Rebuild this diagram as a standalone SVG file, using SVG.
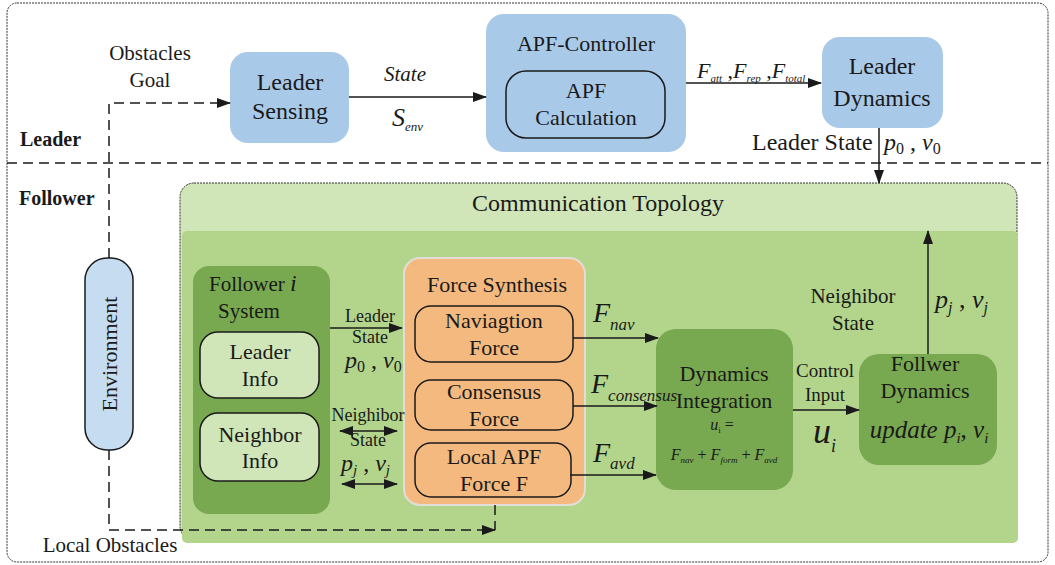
<svg xmlns="http://www.w3.org/2000/svg" width="1055" height="565" viewBox="0 0 1055 565" font-family="Liberation Serif">
<defs>
<marker id="ah" markerUnits="userSpaceOnUse" markerWidth="14" markerHeight="10" refX="13" refY="5" orient="auto">
<path d="M0,0 L14,5 L0,10 Z" fill="#1a1a1a"/>
</marker>
<marker id="ahs" markerUnits="userSpaceOnUse" markerWidth="14" markerHeight="10" refX="1" refY="5" orient="auto">
<path d="M14,0 L0,5 L14,10 Z" fill="#1a1a1a"/>
</marker>
<style>
text{font-family:'Liberation Serif','Times New Roman',serif;fill:#1a1a1a}
.t22{font-size:22px;text-anchor:middle}
.t24{font-size:24px;text-anchor:middle}
.t19{font-size:19px;text-anchor:middle}
.bold{font-size:20px;font-weight:bold}
.it{font-style:italic}
.blue{fill:#a9c9e8}
.dk{fill:#78a84f}
.inner{stroke:#1a1a1a;stroke-width:1.5}
.ln{stroke:#1a1a1a;stroke-width:1.5;fill:none}
.dash{stroke:#1a1a1a;stroke-width:1.5;fill:none;stroke-dasharray:10 6}
</style>
</defs>
<rect x="7" y="3" width="1041" height="559" rx="10" fill="#ffffff" stroke="#333" stroke-width="1" stroke-dasharray="2 1"/>
<line x1="7" y1="163" x2="1048" y2="163" class="dash"/>
<text class="bold" x="20" y="146">Leader</text>
<text class="bold" x="19" y="205">Follower</text>
<text x="150" y="60" font-size="21" text-anchor="middle">Obstacles</text>
<text x="150" y="87" font-size="21" text-anchor="middle">Goal</text>
<text x="110" y="552" font-size="21" text-anchor="middle">Local Obstacles</text>

<g id="comm-topology">
<rect x="180" y="183" width="837" height="357" rx="14" fill="#d0e5b8" stroke="#333" stroke-width="1" stroke-dasharray="2 1"/>
<rect x="182" y="231" width="836" height="312" rx="5" fill="#b2d58b"/>
<text class="t22" x="598" y="211" font-size="24" style="font-size:24px">Communication Topology</text>
</g>

<g id="leader-sensing">
<rect x="230" y="52" width="119" height="91" rx="18" class="blue"/>
<text class="t24" x="290" y="90">Leader</text>
<text class="t24" x="290" y="119">Sensing</text>
</g>

<g id="apf-controller">
<rect x="486" y="14" width="200" height="138" rx="18" class="blue"/>
<text class="t22" x="586" y="51">APF-Controller</text>
</g>
<g id="apf-calculation">
<rect x="506" y="71" width="159" height="67" rx="20" fill="none" class="inner"/>
<text class="t22" x="586" y="98">APF</text>
<text class="t22" x="586" y="125">Calculation</text>
</g>

<g id="leader-dynamics">
<rect x="822" y="37" width="121" height="91" rx="18" class="blue"/>
<text class="t24" x="882" y="74">Leader</text>
<text class="t24" x="882" y="106">Dynamics</text>
</g>

<g id="environment">
<rect x="85" y="258" width="48" height="192" rx="22" fill="#c6dcf1" class="inner"/>
<text class="t22" x="0" y="0" transform="translate(117,354) rotate(-90)">Environment</text>
</g>

<g id="follower-system">
<rect x="193" y="266" width="137" height="248" rx="16" class="dk"/>
<text x="209" y="291" font-size="21">Follower <tspan class="it" font-size="24">i</tspan></text>
<text x="249" y="318" font-size="21" text-anchor="middle">System</text>
</g>
<g id="leader-info">
<rect x="200" y="332" width="119" height="66" rx="18" fill="#d0e5b8" class="inner"/>
<text class="t22" x="260" y="359">Leader</text>
<text class="t22" x="260" y="386">Info</text>
</g>
<g id="neighbor-info">
<rect x="200" y="413" width="119" height="68" rx="18" fill="#d0e5b8" class="inner"/>
<text class="t22" x="260" y="442">Neighbor</text>
<text class="t22" x="260" y="468">Info</text>
</g>

<g id="force-synthesis">
<rect x="404" y="258" width="181" height="247" rx="16" fill="#f4b97f" stroke="#e2ddd6" stroke-width="2"/>
<text class="t22" x="497" y="292">Force Synthesis</text>
</g>
<g id="navigation-force">
<rect x="415" y="306" width="158" height="56" rx="16" fill="#f4b97f" class="inner"/>
<text class="t22" x="494" y="328">Naviagtion</text>
<text class="t22" x="494" y="355">Force</text>
</g>
<g id="consensus-force">
<rect x="415" y="380" width="158" height="50" rx="16" fill="#f4b97f" class="inner"/>
<text class="t22" x="494" y="399">Consensus</text>
<text class="t22" x="494" y="426">Force</text>
</g>
<g id="local-apf-force">
<rect x="415" y="443" width="156" height="54" rx="16" fill="#f4b97f" class="inner"/>
<text class="t22" x="494" y="464">Local APF</text>
<text class="t22" x="494" y="491">Force F</text>
</g>

<g id="dynamics-integration">
<rect x="656" y="329" width="137" height="161" rx="20" class="dk"/>
<text class="t22" x="724" y="381">Dynamics</text>
<text class="t22" x="724" y="408">Integration</text>
<text x="722" y="430" font-size="16" text-anchor="middle"><tspan class="it">u</tspan><tspan font-size="9" dy="3">i</tspan><tspan dy="-3"> =</tspan></text>
<text x="724" y="460" font-size="16" text-anchor="middle"><tspan class="it">F</tspan><tspan class="it" font-size="9" dy="3">nav</tspan><tspan dy="-3"> + </tspan><tspan class="it">F</tspan><tspan class="it" font-size="9" dy="3">form</tspan><tspan dy="-3"> + </tspan><tspan class="it">F</tspan><tspan class="it" font-size="9" dy="3">avd</tspan></text>
</g>

<g id="follower-dynamics">
<rect x="859" y="354" width="138" height="111" rx="20" class="dk"/>
<text class="t22" x="925" y="371">Follwer</text>
<text class="t22" x="925" y="398">Dynamics</text>
<text x="929" y="438" font-size="25" text-anchor="middle"><tspan class="it">update p</tspan><tspan font-size="15" dy="5" class="it">i</tspan><tspan dy="-5">, </tspan><tspan class="it">v</tspan><tspan font-size="15" dy="5" class="it">i</tspan></text>
</g>

<g id="connectors">
<path d="M109,258 V103 H230" class="dash" marker-end="url(#ah)"/>
<path d="M109,450 V530 H495" class="dash" marker-end="url(#ah)"/>
<path d="M495,505 V530" class="dash"/>
<path d="M349,97 H486" class="ln" marker-end="url(#ah)"/>
<path d="M686,83 H821" class="ln" marker-end="url(#ah)"/>
<path d="M879,128 V183" class="ln" marker-end="url(#ah)"/>
<path d="M330,328 H402" class="ln" marker-end="url(#ah)"/>
<path d="M340,431 H397" class="ln" marker-start="url(#ahs)" marker-end="url(#ah)"/>
<path d="M342,484 H397" class="ln" marker-start="url(#ahs)" marker-end="url(#ah)"/>
<path d="M573,338 H658" class="ln" marker-end="url(#ah)"/>
<path d="M573,406 H657" class="ln" marker-end="url(#ah)"/>
<path d="M570,475 H656" class="ln" marker-end="url(#ah)"/>
<path d="M793,410 H859" class="ln" marker-end="url(#ah)"/>
<path d="M928,354 V231" class="ln" marker-end="url(#ah)"/>
</g>

<g id="labels">
<text x="405" y="81" class="it" font-size="21" text-anchor="middle">State</text>
<text x="392" y="126" font-size="26"><tspan class="it">S</tspan><tspan class="it" font-size="13" dy="5">env</tspan></text>
<text x="697" y="78" font-size="22"><tspan class="it">F</tspan><tspan class="it" font-size="11" dy="4">att</tspan><tspan dy="-4"> ,</tspan><tspan class="it">F</tspan><tspan class="it" font-size="11" dy="4">rep</tspan><tspan dy="-4"> ,</tspan><tspan class="it">F</tspan><tspan class="it" font-size="11" dy="4">total</tspan></text>
<text x="752" y="150" font-size="24">Leader State</text>
<text x="884" y="150" font-size="24"><tspan class="it">p</tspan><tspan font-size="16" dy="4">0</tspan><tspan dy="-4"> , </tspan><tspan class="it">v</tspan><tspan font-size="16" dy="4">0</tspan></text>
<text x="370" y="322" font-size="18" text-anchor="middle">Leader</text>
<text x="370" y="343" font-size="18" text-anchor="middle">State</text>
<text x="345" y="368" font-size="24"><tspan class="it">p</tspan><tspan font-size="16" dy="4">0</tspan><tspan dy="-4"> , </tspan><tspan class="it">v</tspan><tspan font-size="16" dy="4">0</tspan></text>
<text x="368" y="421" font-size="18" text-anchor="middle">Neighibor</text>
<text x="368" y="446" font-size="18" text-anchor="middle">State</text>
<text x="341" y="471" font-size="24"><tspan class="it">p</tspan><tspan class="it" font-size="15" dy="4">j</tspan><tspan dy="-4"> , </tspan><tspan class="it">v</tspan><tspan class="it" font-size="15" dy="4">j</tspan></text>
<text x="593" y="322" font-size="28"><tspan class="it">F</tspan><tspan class="it" font-size="17" dy="8">nav</tspan></text>
<text x="591" y="393" font-size="28"><tspan class="it">F</tspan><tspan class="it" font-size="17" dy="8">consensus</tspan></text>
<text x="593" y="462" font-size="28"><tspan class="it">F</tspan><tspan class="it" font-size="17" dy="7">avd</tspan></text>
<text class="t19" x="825" y="377">Control</text>
<text class="t19" x="825" y="401">Input</text>
<text x="813" y="443" font-size="36"><tspan class="it">u</tspan><tspan class="it" font-size="18" dy="9">i</tspan></text>
<text x="853" y="303" font-size="21" text-anchor="middle">Neighibor</text>
<text x="853" y="330" font-size="21" text-anchor="middle">State</text>
<text x="935" y="308" font-size="26"><tspan class="it">p</tspan><tspan class="it" font-size="16" dy="5">j</tspan><tspan dy="-5"> , </tspan><tspan class="it">v</tspan><tspan class="it" font-size="16" dy="5">j</tspan></text>
</g>
</svg>
